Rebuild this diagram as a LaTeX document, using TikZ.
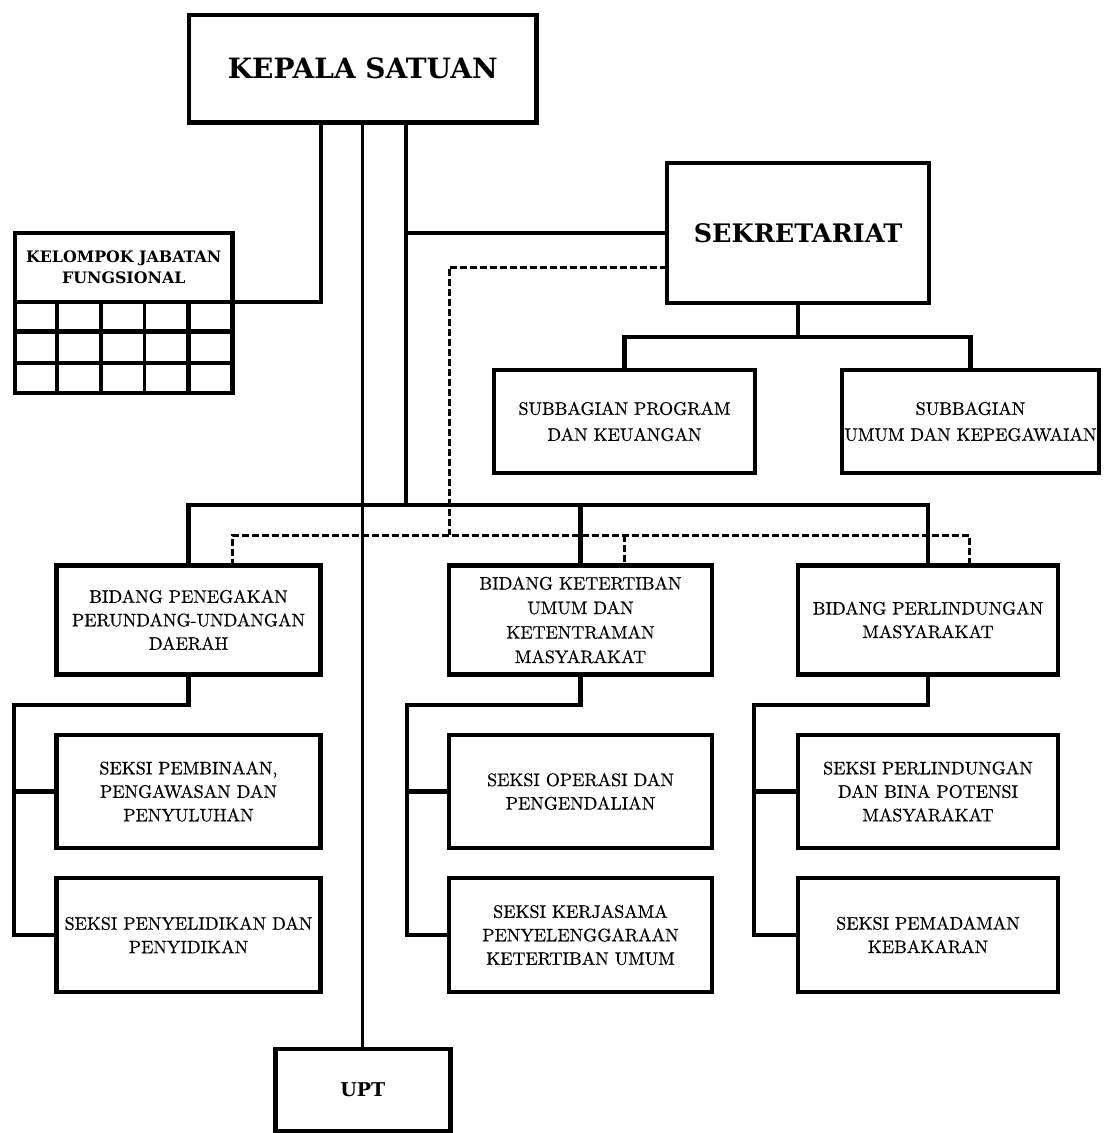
\documentclass[tikz,border=0pt]{standalone}
\usepackage{fontspec}
\newfontfamily\titlefont{DejaVu Serif}
\newfontfamily\bodyfont{lmroman10-regular.otf}[FakeBold=0.6]
\begin{document}
\begin{tikzpicture}[x=1pt,y=-1pt,
  box/.style={draw, line width=4.8pt, inner sep=0pt, outer sep=0pt, align=center,
    font=\bodyfont\fontsize{18}{23.5}\selectfont},
  tbox/.style={box, font=\titlefont\bfseries},
  conn/.style={line width=4.4pt},
  thinconn/.style={line width=2.8pt},
  dsh/.style={line width=3pt, dash pattern=on 7pt off 3pt},
  gridl/.style={line width=4.4pt}]
\useasboundingbox (0,0) rectangle (1104,1133);

% top
\node[tbox, font=\titlefont\bfseries\fontsize{28}{32}\selectfont, minimum width=347.5pt, minimum height=107.5pt] (ks) at (362.75,68.75) {KEPALA SATUAN};
\node[tbox, font=\titlefont\bfseries\fontsize{25.5}{30}\selectfont, minimum width=262pt, minimum height=140pt] (sek) at (798,233) {SEKRETARIAT};
\node[tbox, font=\titlefont\bfseries\fontsize{15.8}{21}\selectfont, minimum width=217.5pt, minimum height=69pt] (kjf) at (123.75,267.5) {KELOMPOK JABATAN\\FUNGSIONAL};

% KJF grid
\draw[gridl] (15,302) -- (15,393) -- (232.5,393) -- (232.5,302);
\foreach \yy in {331.5,363} \draw[gridl] (15,\yy) -- (232.5,\yy);
\foreach \xx in {57,101,188.3} \draw[gridl] (\xx,302) -- (\xx,393);
\draw[line width=3pt] (144.5,302) -- (144.5,393);

% subbagian
\node[box, font=\bodyfont\fontsize{18}{26}\selectfont, minimum width=261pt, minimum height=103pt] (sub1) at (624.5,421.5) {SUBBAGIAN PROGRAM\\DAN KEUANGAN};
\node[box, font=\bodyfont\fontsize{18}{26}\selectfont, minimum width=257pt, minimum height=103pt] (sub2) at (970.5,421.5) {SUBBAGIAN\\UMUM DAN KEPEGAWAIAN};

% bidang
\node[box, minimum width=264pt, minimum height=109pt] (bid1) at (188.5,620) {BIDANG PENEGAKAN\\PERUNDANG-UNDANGAN\\DAERAH};
\node[box, font=\bodyfont\fontsize{18}{24.5}\selectfont, minimum width=263pt, minimum height=109pt] (bid2) at (580.5,620) {BIDANG KETERTIBAN\\UMUM DAN\\KETENTRAMAN\\MASYARAKAT};
\node[box, minimum width=260pt, minimum height=109pt] (bid3) at (928,620) {BIDANG PERLINDUNGAN\\MASYARAKAT};

% seksi
\node[box, minimum width=264pt, minimum height=113pt] (s11) at (188.5,791.5) {SEKSI PEMBINAAN,\\PENGAWASAN DAN\\PENYULUHAN};
\node[box, minimum width=264pt, minimum height=114pt] (s12) at (188.5,935) {SEKSI PENYELIDIKAN DAN\\PENYIDIKAN};
\node[box, minimum width=263pt, minimum height=113pt] (s21) at (580.5,791.5) {SEKSI OPERASI DAN\\PENGENDALIAN};
\node[box, minimum width=263pt, minimum height=114pt] (s22) at (580.5,935) {SEKSI KERJASAMA\\PENYELENGGARAAN\\KETERTIBAN UMUM};
\node[box, minimum width=260pt, minimum height=113pt] (s31) at (928,791.5) {SEKSI PERLINDUNGAN\\DAN BINA POTENSI\\MASYARAKAT};
\node[box, minimum width=260pt, minimum height=114pt] (s32) at (928,935) {SEKSI PEMADAMAN\\KEBAKARAN};

% UPT
\node[tbox, font=\titlefont\bfseries\fontsize{19}{23}\selectfont, minimum width=175pt, minimum height=82pt] (upt) at (362.75,1090) {UPT};

% coordinates
\coordinate (jkjf) at (321,302);
\coordinate (jsek) at (406,233);
\coordinate (jbus) at (406,505);
\coordinate (sbus) at (798,337);
\coordinate (dtop) at (449,267);
\coordinate (d1) at (232,535);
\coordinate (d2) at (624,535);
\coordinate (d3) at (969,535);
\coordinate (c1) at (14,705);
\coordinate (c2) at (407,705);
\coordinate (c3) at (754,705);

% connectors
\draw[conn] (jkjf |- ks.south) -- (jkjf) -- (kjf.south east);
\draw[conn] (jsek |- ks.south) -- (jbus);
\draw[conn] (jsek) -- (sek.west);
\draw[thinconn] (ks.south) -- (upt.north);
\draw[conn] (bid1.north) |- (jbus) -| (bid3.north);
\draw[conn] (bid2.north) -- (bid2.north |- jbus);
\draw[conn] (sek.south) -- (sbus);
\draw[conn] (sub1.north) |- (sbus) -| (sub2.north);

\draw[dsh] (dtop -| sek.west) -- (dtop) -- (dtop |- d1);
\draw[dsh] (d1 |- bid1.north) -- (d1) -- (d3) -- (d3 |- bid3.north);
\draw[dsh] (d2) -- (d2 |- bid2.north);

\draw[conn] (bid1.south) |- (c1) |- (s12.west);
\draw[conn] (c1 |- s11.west) -- (s11.west);
\draw[conn] (bid2.south) |- (c2) |- (s22.west);
\draw[conn] (c2 |- s21.west) -- (s21.west);
\draw[conn] (bid3.south) |- (c3) |- (s32.west);
\draw[conn] (c3 |- s31.west) -- (s31.west);
\end{tikzpicture}
\end{document}
